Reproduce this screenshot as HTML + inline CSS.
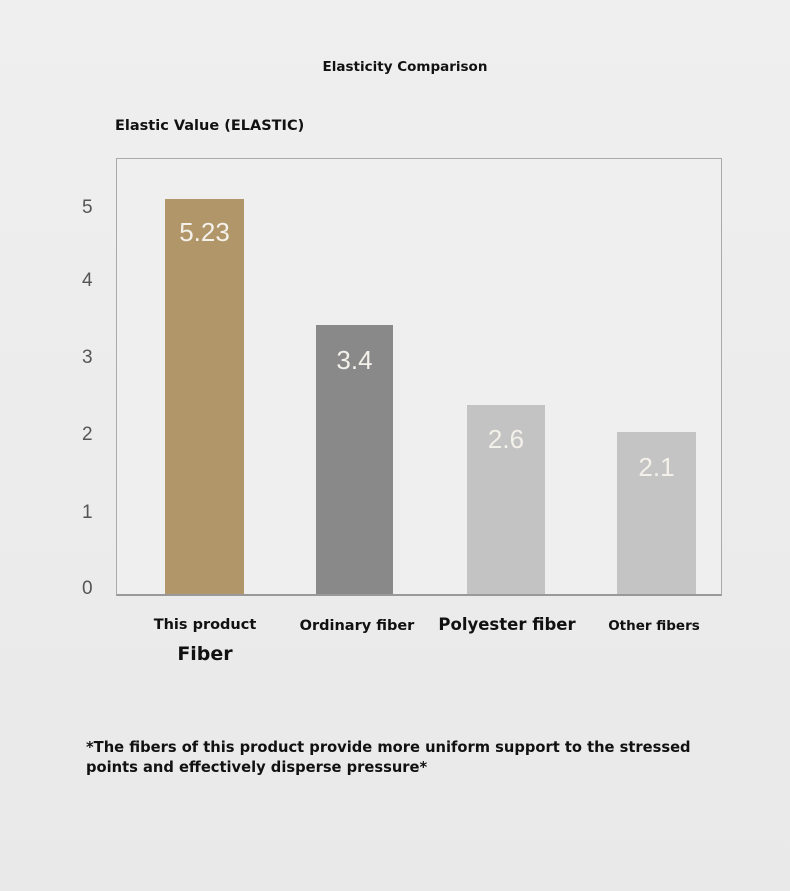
<!DOCTYPE html>
<html><head><meta charset="utf-8"><style>
body{margin:0;width:790px;height:891px;background:linear-gradient(180deg,#efefef,#e9e9e9);font-family:"DejaVu Sans","Liberation Sans",sans-serif;position:relative;overflow:hidden}
.a{position:absolute;white-space:nowrap}
.b{font-weight:bold;color:#111}
.t{color:#555;font-family:"Liberation Sans",sans-serif;font-size:19px}
.v{color:#f4f0ea;font-family:"Liberation Sans",sans-serif;font-size:26px;text-align:center}
</style></head><body>
<div class="a b" style="left:0;width:810px;text-align:center;top:59px;font-size:13.5px">Elasticity Comparison</div>
<div class="a b" style="left:115px;top:118px;font-size:14.5px">Elastic Value (ELASTIC)</div>
<div class="a" style="left:116px;top:158px;width:604px;height:435px;border:1.5px solid #aaa;border-bottom:2px solid #999;background:#efefef"></div>
<div class="a t" style="left:82px;top:197px">5</div>
<div class="a t" style="left:82px;top:270px">4</div>
<div class="a t" style="left:82px;top:347px">3</div>
<div class="a t" style="left:82px;top:424px">2</div>
<div class="a t" style="left:82px;top:502px">1</div>
<div class="a t" style="left:82px;top:578px">0</div>
<div class="a" style="left:165px;top:199px;width:79px;height:395px;background:#b19669"></div>
<div class="a" style="left:316px;top:325px;width:77px;height:269px;background:#898989"></div>
<div class="a" style="left:467px;top:405px;width:78px;height:189px;background:#c3c3c3"></div>
<div class="a" style="left:617px;top:432px;width:79px;height:162px;background:#c4c4c4"></div>
<div class="a v" style="left:165px;width:79px;top:217px">5.23</div>
<div class="a v" style="left:316px;width:77px;top:345px">3.4</div>
<div class="a v" style="left:467px;width:78px;top:424px">2.6</div>
<div class="a v" style="left:617px;width:79px;top:452px">2.1</div>
<div class="a b" style="left:145px;width:120px;text-align:center;top:617px;font-size:14.5px">This product</div>
<div class="a b" style="left:145px;width:120px;text-align:center;top:643px;font-size:19px">Fiber</div>
<div class="a b" style="left:292px;width:130px;text-align:center;top:618px;font-size:14.5px">Ordinary fiber</div>
<div class="a b" style="left:437px;width:140px;text-align:center;top:615px;font-size:16.5px">Polyester fiber</div>
<div class="a b" style="left:594px;width:120px;text-align:center;top:618px;font-size:13.5px">Other fibers</div>
<div class="a b" style="left:86px;top:738px;font-size:14.7px;line-height:20px">*The fibers of this product provide more uniform support to the stressed<br>points and effectively disperse pressure*</div>
</body></html>
